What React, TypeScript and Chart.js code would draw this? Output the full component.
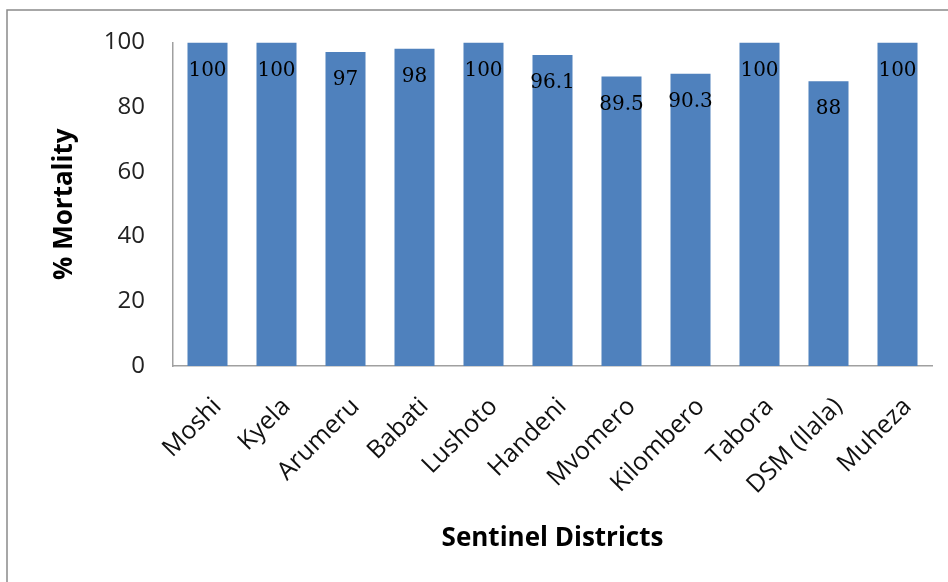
import React, { useEffect, useRef } from "react";
import { Chart, registerables } from "chart.js";

Chart.register(...registerables);

const districts = ["Moshi", "Kyela", "Arumeru", "Babati", "Lushoto", "Handeni", "Mvomero", "Kilombero", "Tabora", "DSM (Ilala)", "Muheza"];
const mortality = [100, 100, 97, 98, 100, 96.1, 89.5, 90.3, 100, 88, 100];
const yTicks = [0, 20, 40, 60, 80, 100];
const yTitle = "% Mortality";
const xTitle = "Sentinel Districts";

const framePlugin = {
  id: "frame",
  beforeDraw(chart: any) {
    const ctx = chart.ctx;
    ctx.save();
    ctx.fillStyle = "#ffffff";
    ctx.fillRect(0, 0, chart.width, chart.height);
    ctx.strokeStyle = "#8a8a8a";
    ctx.lineWidth = 1.5;
    ctx.strokeRect(7, 10, chart.width + 20, chart.height + 20);
    ctx.restore();
  },
};

const labelPlugin = {
  id: "barLabels",
  afterDatasetsDraw(chart: any) {
    const ctx = chart.ctx;
    const meta = chart.getDatasetMeta(0);
    const data = chart.data.datasets[0].data;
    ctx.save();
    ctx.fillStyle = "#000000";
    ctx.font = "20px 'DejaVu Serif'";
    ctx.textAlign = "center";
    ctx.textBaseline = "middle";
    meta.data.forEach((bar: any, i: number) => {
      ctx.fillText(String(data[i]), bar.x, bar.y + 28);
    });
    ctx.restore();
  },
};

export default function App() {
  const ref = useRef<HTMLCanvasElement | null>(null);
  useEffect(() => {
    if (!ref.current) return;
    const chart = new Chart(ref.current, {
      type: "bar",
      data: {
        labels: districts,
        datasets: [
          {
            data: mortality,
            backgroundColor: "#4F81BD",
            borderWidth: 0,
            barPercentage: 0.58,
            categoryPercentage: 1,
          },
        ],
      },
      options: {
        responsive: false,
        animation: false,
        events: [],
        layout: { padding: { left: 0, top: 40, right: 16, bottom: 0 } },
        plugins: {
          legend: { display: false },
          tooltip: { enabled: false },
        },
        scales: {
          x: {
            offset: true,
            grid: { display: false, drawTicks: false },
            border: { display: true, color: "#a0a0a0", width: 1.5 },
            ticks: {
              color: "#111111",
              font: { family: "'Open Sans'", size: 25 },
              minRotation: 45,
              maxRotation: 45,
              padding: 26,
              labelOffset: 10,
              autoSkip: false,
            },
            title: {
              display: true,
              text: xTitle,
              color: "#000000",
              font: { family: "'Open Sans'", size: 26, weight: "bold" },
              padding: { top: 0, bottom: 28 },
            },
            afterFit(scale: any) {
              scale.height = 216;
            },
          },
          y: {
            min: 0,
            max: 100,
            afterBuildTicks(scale: any) {
              scale.ticks = yTicks.map((v) => ({ value: v }));
            },
            grid: { display: false, drawTicks: false },
            border: { display: true, color: "#a0a0a0", width: 1.5 },
            ticks: {
              color: "#222222",
              font: { family: "'Open Sans'", size: 24 },
              padding: 28,
            },
            title: {
              display: true,
              text: yTitle,
              color: "#000000",
              font: { family: "'Open Sans'", size: 26, weight: "bold" },
              padding: { top: 49, bottom: 0 },
            },
            afterFit(scale: any) {
              scale.width = 173;
            },
          },
        },
      },
      plugins: [framePlugin, labelPlugin],
    });
    return () => chart.destroy();
  }, []);
  return (
    <div style={{ position: "fixed", left: 0, top: 0, width: 948, height: 582 }}>
      <canvas ref={ref} width={948} height={582} style={{ width: 948, height: 582, display: "block" }} />
    </div>
  );
}
